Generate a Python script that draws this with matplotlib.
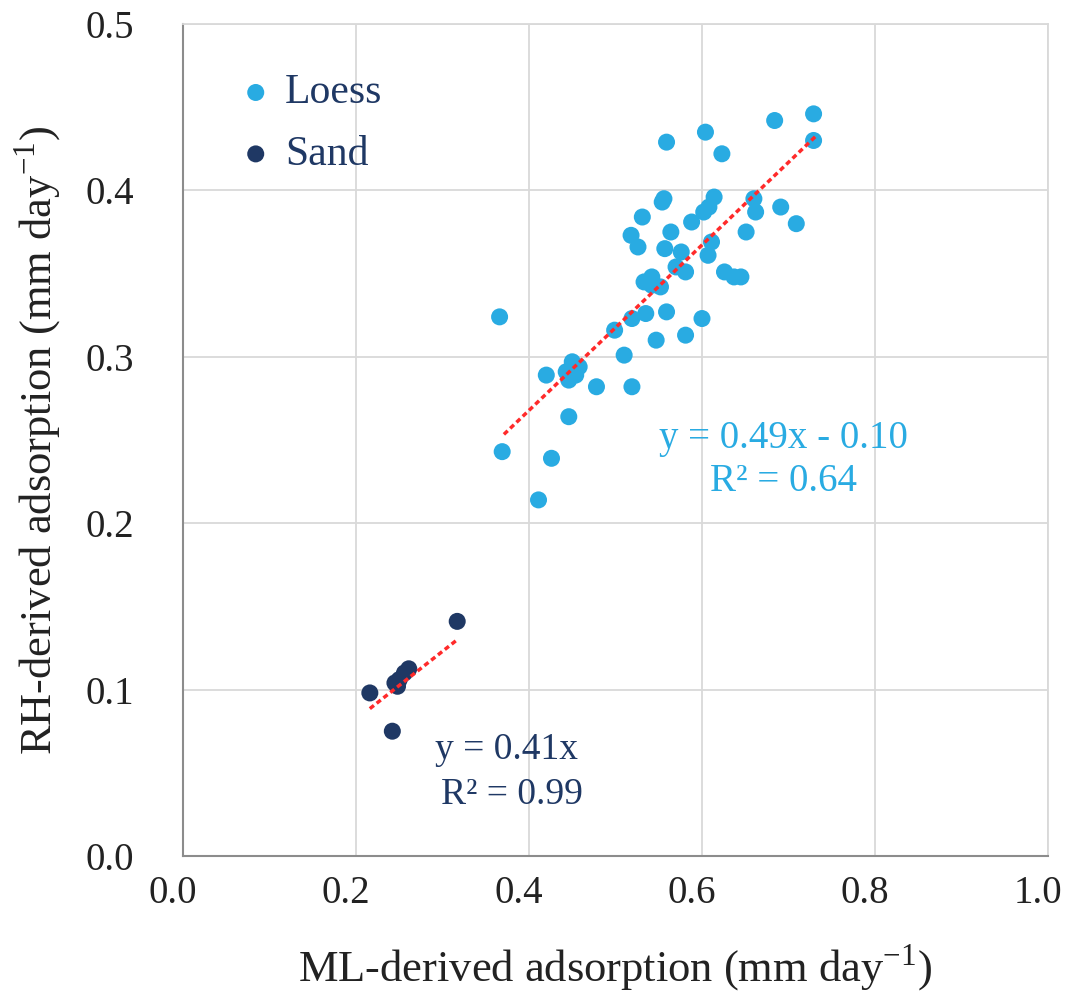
import matplotlib
matplotlib.use("Agg")
import matplotlib.pyplot as plt
import matplotlib.transforms as mtransforms
import numpy as np

plt.rcParams['font.family'] = ['Liberation Serif', 'DejaVu Serif']
plt.rcParams['mathtext.fontset'] = 'custom'
plt.rcParams['mathtext.rm'] = 'Liberation Serif'

# Loess data (ML-derived, RH-derived)
loess_x = [0.729, 0.684, 0.729, 0.604, 0.559, 0.623, 0.556, 0.554, 0.614, 0.608,
           0.602, 0.660, 0.662, 0.691, 0.709, 0.531, 0.588, 0.564, 0.651, 0.518,
           0.526, 0.557, 0.576, 0.611, 0.607, 0.570, 0.581, 0.626, 0.637, 0.645,
           0.542, 0.533, 0.542, 0.552, 0.535, 0.559, 0.519, 0.600, 0.499, 0.547,
           0.581, 0.510, 0.450, 0.458, 0.443, 0.446, 0.454, 0.420, 0.478, 0.519,
           0.446, 0.366, 0.369, 0.426, 0.411]
loess_y = [0.446, 0.442, 0.430, 0.435, 0.429, 0.422, 0.395, 0.393, 0.396, 0.390,
           0.387, 0.395, 0.387, 0.390, 0.380, 0.384, 0.381, 0.375, 0.375, 0.373,
           0.366, 0.365, 0.363, 0.369, 0.361, 0.354, 0.351, 0.351, 0.348, 0.348,
           0.348, 0.345, 0.343, 0.342, 0.326, 0.327, 0.323, 0.323, 0.316, 0.310,
           0.313, 0.301, 0.297, 0.294, 0.291, 0.286, 0.289, 0.289, 0.282, 0.282,
           0.264, 0.324, 0.243, 0.239, 0.214]

# Sand data
sand_x = [0.216, 0.242, 0.317, 0.245, 0.248, 0.250, 0.256, 0.261]
sand_y = [0.098, 0.075, 0.141, 0.104, 0.102, 0.106, 0.110, 0.1125]

# Trend lines (as drawn)
loess_fit = (0.497, 0.069, 0.371, 0.731)   # slope, intercept, xmin, xmax
sand_fit = (0.41, 0.0, 0.216, 0.317)

x_ticks = [0.0, 0.2, 0.4, 0.6, 0.8, 1.0]
y_ticks = [0.0, 0.1, 0.2, 0.3, 0.4, 0.5]

c_loess = '#29ABE2'
c_sand = '#1F3864'
c_red = '#FF2A2A'
c_text = '#222222'

fig = plt.figure(figsize=(10.66, 9.93), dpi=100)
ax = fig.add_axes([183/1066, 1-856/993, (1048-183)/1066, (856-24)/993])

ax.set_xlim(0, 1.0)
ax.set_ylim(0, 0.5)
ax.set_xticks(x_ticks)
ax.set_yticks(y_ticks)
ax.set_xticklabels([f"{v:.1f}" for v in x_ticks])
ax.set_yticklabels([f"{v:.1f}" for v in y_ticks])
ax.grid(True, color='#D9D9D9', linewidth=1.3, zorder=0)
ax.set_axisbelow(True)
for s in ['top', 'right']:
    ax.spines[s].set_color('#D9D9D9')
    ax.spines[s].set_linewidth(1.3)
for s in ['left', 'bottom']:
    ax.spines[s].set_color('#8C8C8C')
    ax.spines[s].set_linewidth(1.5)
ax.tick_params(length=0, labelsize=28, colors=c_text)
ax.tick_params(axis='x', pad=14)
ax.tick_params(axis='y', pad=35)

offset = mtransforms.ScaledTranslation(-10/100, 0, fig.dpi_scale_trans)
for lab in ax.get_xticklabels():
    lab.set_transform(lab.get_transform() + offset)

ax.scatter(loess_x, loess_y, s=150, color=c_loess, edgecolors='none', zorder=3, label='Loess')
ax.scatter(sand_x, sand_y, s=150, color=c_sand, edgecolors='none', zorder=3, label='Sand')

for (m, b, x0, x1) in [loess_fit, sand_fit]:
    xx = np.array([x0, x1])
    ax.plot(xx, m*xx + b, color=c_red, linestyle=(0, (1.5, 1.0)), linewidth=2.5, zorder=4)

ax.text(0.694, 0.251, "y = 0.49x - 0.10", color=c_loess, fontsize=28, ha='center', va='center')
ax.text(0.694, 0.225, "R² = 0.64", color=c_loess, fontsize=28, ha='center', va='center')
ax.text(0.374, 0.064, "y = 0.41x", color=c_sand, fontsize=27, ha='center', va='center')
ax.text(0.380, 0.037, "R² = 0.99", color=c_sand, fontsize=27, ha='center', va='center')

leg = ax.legend(loc='upper left', bbox_to_anchor=(0.06, 0.94), frameon=False,
                fontsize=30, handlelength=1.0, handletextpad=0.2, labelspacing=0.55,
                markerscale=1.0, borderaxespad=0, borderpad=0)
for t in leg.get_texts():
    t.set_color(c_sand)

ax.set_xlabel("ML-derived adsorption (mm day$^{-1}$)", fontsize=32, color=c_text, labelpad=22)
ax.set_ylabel("RH-derived adsorption (mm day$^{-1}$)", fontsize=32, color=c_text, labelpad=16)

fig.savefig("out.png", dpi=100)
